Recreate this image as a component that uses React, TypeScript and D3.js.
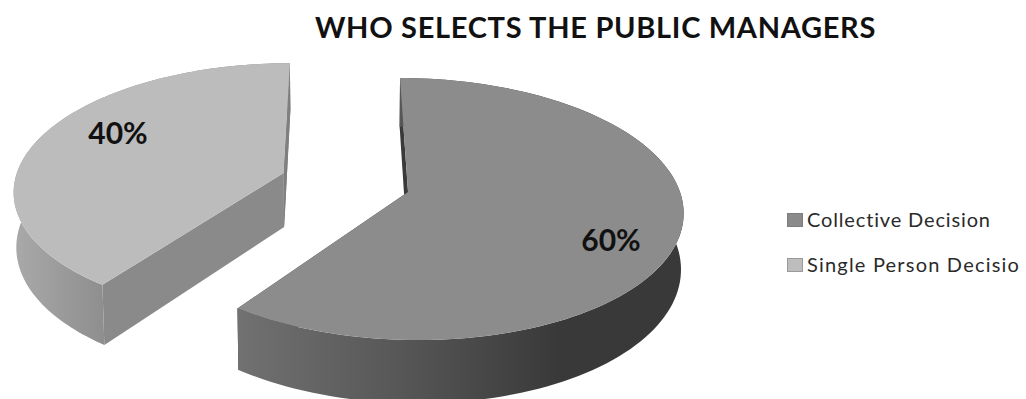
import * as d3 from "d3";

// Share of respondents per selection method
const categories = ["Collective Decision", "Single Person Decisio"];
const shares = [60, 40];
const labels = ["60%", "40%"];
const explode = [0, 0.485];

const TOP_FILL = ["#8c8c8c", "#bcbcbc"];
const EDGE_FILL = ["#3c3c3c", "#7f7f7f"];
const SWATCH_FILL = ["#8a8a8a", "#bdbdbd"];
const SWATCH_STROKE = ["#7c7c7c", "#9a9a9a"];
const LEGEND_SPACING = [0.85, 1.2];
const FONT = "Lato, 'Open Sans', sans-serif";

// Perspective camera for a tilted disc of unit radius
const ORIGIN_X = 408;
const ORIGIN_Y = 192;
const SCALE_X = 272;
const SCALE_Y = 128.8;
const SHEAR = 9;
const FORESHORTEN = 0.13;
const DEPTH = 55;
const VANISH_X = 350;
const CONVERGE = 0.008;

type Pt = [number, number];

function project(x: number, y: number, z: number): Pt {
  const w = 1 - FORESHORTEN * y;
  const sx = ORIGIN_X + (SCALE_X * x + SHEAR * y) / w;
  const sy = ORIGIN_Y + (SCALE_Y * y + DEPTH * z) / w;
  return [sx + (VANISH_X - sx) * CONVERGE * z, sy];
}

const pieLayout = d3.pie<number>().sort(null).startAngle(0).endAngle(2 * Math.PI);
const arcs = pieLayout(shares);
const linePath = d3.line<Pt>();

interface SliceGeom {
  top: string;
  rimWall: string;
  startWall: string;
  endWall: string;
}

function sliceGeometry(i: number): SliceGeom {
  const { startAngle, endAngle } = arcs[i];
  const mid = (startAngle + endAngle) / 2;
  const ox = Math.sin(mid) * explode[i];
  const oy = -Math.cos(mid) * explode[i];
  const steps = d3.range(0, 121).map((k) => startAngle + ((endAngle - startAngle) * k) / 120);
  const rim = (z: number) =>
    steps.map((a) => project(ox + Math.sin(a), oy - Math.cos(a), z));
  const hub = (z: number) => project(ox, oy, z);
  const rimTop = rim(0);
  const rimBottom = rim(1);
  const last = rimTop.length - 1;
  const wall = (j: number) =>
    linePath([hub(0), rimTop[j], rimBottom[j], hub(1)]) + "Z";
  return {
    top: linePath([hub(0), ...rimTop]) + "Z",
    rimWall: linePath([...rimTop, ...rimBottom.slice().reverse()]) + "Z",
    startWall: wall(0),
    endWall: wall(last),
  };
}

const geometry = arcs.map((_, i) => sliceGeometry(i));
const drawOrder = [1, 0];

const labelPos: Pt[] = [
  [611, 251],
  [118, 144],
];

export default function App() {
  return (
    <svg
      width={1026}
      height={399}
      viewBox="0 0 1026 399"
      style={{ position: "absolute", left: 0, top: 0, background: "#fff" }}
    >
      <defs>
        <linearGradient id="wall-collective" gradientUnits="userSpaceOnUse" x1={238} x2={560} y1={0} y2={0}>
          <stop offset="0" stopColor="#717171" />
          <stop offset="0.5" stopColor="#575757" />
          <stop offset="1" stopColor="#393939" />
        </linearGradient>
        <linearGradient id="wall-single" gradientUnits="userSpaceOnUse" x1={14} x2={105} y1={0} y2={0}>
          <stop offset="0" stopColor="#a9a9a9" />
          <stop offset="1" stopColor="#8e8e8e" />
        </linearGradient>
      </defs>

      <text
        x={595.5}
        y={37.5}
        textAnchor="middle"
        fontFamily={FONT}
        fontWeight={700}
        fontSize={29}
        letterSpacing={0.7}
        fill="#111"
      >
        WHO SELECTS THE PUBLIC MANAGERS
      </text>

      {drawOrder.map((i) => {
        const g = geometry[i];
        return (
          <g key={categories[i]}>
            <path d={g.startWall} fill={i === 0 ? "#3a3a3a" : "#8a8a8a"} />
            <path d={g.endWall} fill={EDGE_FILL[i]} />
            <path d={g.rimWall} fill={`url(#${i === 0 ? "wall-collective" : "wall-single"})`} />
            <path d={g.endWall} fill={i === 1 ? EDGE_FILL[i] : "none"} />
            <path d={g.top} fill={TOP_FILL[i]} />
          </g>
        );
      })}

      {labels.map((t, i) => (
        <text
          key={t}
          x={labelPos[i][0]}
          y={labelPos[i][1]}
          textAnchor="middle"
          fontFamily={FONT}
          fontWeight={700}
          fontSize={30}
          fill="#111"
        >
          {t}
        </text>
      ))}

      {categories.map((c, i) => (
        <g key={c}>
          <rect
            x={787.5}
            y={213.5 + i * 45}
            width={15}
            height={13}
            fill={SWATCH_FILL[i]}
            stroke={SWATCH_STROKE[i]}
          />
          <text
            x={807}
            y={227 + i * 45}
            fontFamily={FONT}
            fontSize={20}
            letterSpacing={LEGEND_SPACING[i]}
            fill="#2a2a2a"
          >
            {c}
          </text>
        </g>
      ))}
    </svg>
  );
}
